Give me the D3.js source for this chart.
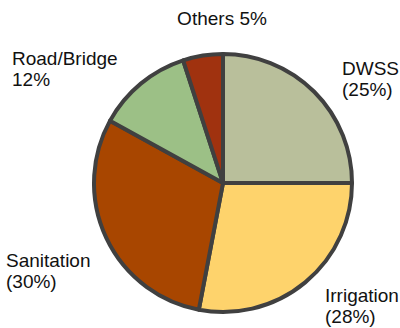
<!DOCTYPE html>
<html>
<head>
<meta charset="utf-8">
<script src="https://cdn.jsdelivr.net/npm/d3@7/dist/d3.min.js"></script>
<style>
  html, body { margin: 0; padding: 0; background: #fff; }
  text { font-family: "Liberation Sans", Arial, sans-serif; font-size: 19px; fill: #111; }
</style>
</head>
<body>
<svg id="chart" width="400" height="328"></svg>
<script>
// Share of funds by sector (percent)
const categories = ["DWSS", "Irrigation", "Sanitation", "Road/Bridge", "Others"];
const shares = [25, 28, 30, 12, 5];
const colors = ["#b9bf9b", "#fed36c", "#a84600", "#9cc086", "#a0320f"];
// Two-line labels: name line and value line
const labelLines = [
  ["DWSS", "(25%)"],
  ["Irrigation", "(28%)"],
  ["Sanitation", "(30%)"],
  ["Road/Bridge", "12%"],
  ["Others 5%"]
];

const svg = d3.select("#chart");
const cx = 223, cy = 183, r = 129;

const pie = d3.pie().sort(null).value(d => d.value);
const arcs = pie(categories.map((c, i) => ({ name: c, value: shares[i], color: colors[i] })));
const arc = d3.arc().innerRadius(0).outerRadius(r);

const g = svg.append("g").attr("transform", `translate(${cx},${cy})`);
g.selectAll("path")
  .data(arcs)
  .join("path")
  .attr("d", arc)
  .attr("fill", d => d.data.color)
  .attr("stroke", "#404040")
  .attr("stroke-width", 4)
  .attr("stroke-linejoin", "round");

// Label anchors placed around the pie
const labelPos = [
  { x: 342, y: 75, anchor: "start" },
  { x: 325, y: 302, anchor: "start" },
  { x: 6, y: 267, anchor: "start" },
  { x: 12, y: 65, anchor: "start" },
  { x: 222, y: 25, anchor: "middle" }
];

labelLines.forEach((lines, i) => {
  const p = labelPos[i];
  const t = svg.append("text")
    .attr("x", p.x).attr("y", p.y)
    .attr("text-anchor", p.anchor);
  lines.forEach((line, j) => {
    t.append("tspan")
      .attr("x", p.x)
      .attr("dy", j === 0 ? 0 : 20.5)
      .text(line);
  });
});
</script>
</body>
</html>
